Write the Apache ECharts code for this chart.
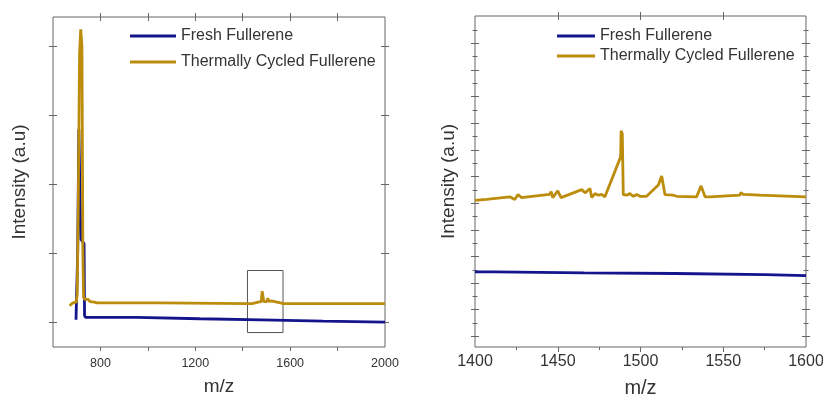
<!DOCTYPE html>
<html><head><meta charset="utf-8">
<script src="https://cdn.jsdelivr.net/npm/echarts@6/dist/echarts.min.js"></script>
<style>html,body{margin:0;padding:0;background:#fff}#c{width:823px;height:398px}</style>
</head><body><div id="c"></div>
<script>
const seriesNames = ['Fresh Fullerene', 'Thermally Cycled Fullerene'];

// ---- left panel (full range) ----
const freshMzL  = [697, 700, 704, 709, 713, 718, 731, 733, 737, 952, 954, 1219, 1221, 1479, 1481, 1739, 1741, 2000];
const freshIntL = [0.035, 0.06, 1.0, 2.8, 2.0, 1.2, 1.14, 0.1, 0.07, 0.07, 0.05, 0.05, 0.035, 0.035, 0.015, 0.015, 0.0, 0.0];
const cycledMzL  = [670, 684, 698, 702, 706, 712, 717, 722, 726, 729, 734, 740, 748, 756, 775, 785, 1050, 1052, 1420, 1425, 1440, 1465, 1478, 1482, 1486, 1489, 1502, 1506, 1510, 1520, 1524, 1528, 1560, 1570, 2000];
const cycledIntL = [0.24, 0.28, 0.29, 0.4, 1.5, 3.9, 4.25, 4.0, 1.0, 0.36, 0.33, 0.32, 0.33, 0.30, 0.29, 0.28, 0.28, 0.27, 0.27, 0.26, 0.27, 0.29, 0.30, 0.45, 0.47, 0.30, 0.30, 0.35, 0.30, 0.31, 0.32, 0.29, 0.28, 0.27, 0.27];
const boxMz  = [1420, 1570];
const boxInt = [-0.15, 0.75];
const leftXRange = [600, 2000];
const leftYRange = [-0.36, 4.43];
const leftXTicks = [800, 1000, 1200, 1400, 1600, 1800];
const leftXLabels = [800, 1200, 1600, 2000];
const leftYTicks = [0, 1, 2, 3, 4];

// ---- right panel (zoom 1400-1600) ----
const freshMzR  = [1400, 1412, 1413, 1466, 1467, 1521, 1522, 1575, 1576, 1600];
const freshIntR = [2.42, 2.42, 2.38, 2.38, 2.36, 2.36, 2.32, 2.32, 2.28, 2.28];
const cycledMzR  = [1400, 1407, 1421, 1422, 1424, 1426, 1428, 1445, 1446, 1447, 1450, 1452, 1464.5, 1466.5, 1469.5, 1470.5, 1472.5, 1474.5, 1476.5, 1478.5, 1488, 1488.3, 1489, 1489.6, 1491.6, 1493.6, 1495.7, 1497.7, 1499.7, 1503.7, 1510.8, 1512.8, 1514.8, 1519.8, 1521.9, 1533.9, 1536.6, 1539, 1542, 1560, 1560.7, 1562, 1572, 1600];
const cycledIntR = [5.11, 5.14, 5.24, 5.30, 5.14, 5.33, 5.21, 5.33, 5.43, 5.21, 5.46, 5.21, 5.51, 5.39, 5.55, 5.21, 5.36, 5.30, 5.33, 5.24, 6.74, 7.72, 7.60, 5.32, 5.30, 5.36, 5.26, 5.33, 5.26, 5.26, 5.68, 6.02, 5.32, 5.30, 5.26, 5.24, 5.65, 5.24, 5.24, 5.30, 5.40, 5.33, 5.30, 5.24];
const rightXRange = [1400, 1600];
const rightYRange = [-0.4, 12.03];
const rightXMajor = [1450, 1500, 1550];
const rightXMinor = [1425, 1475, 1525, 1575];
const rightXLabels = [1400, 1450, 1500, 1550, 1600];
const rightYMajor = [0, 1, 2, 3, 4, 5, 6, 7, 8, 9, 10, 11];
const rightYMinor = [0.5, 1.5, 2.5, 3.5, 4.5, 5.5, 6.5, 7.5, 8.5, 9.5, 10.5, 11.5];

const zip = (a, b) => a.map((v, i) => [v, b[i]]);
const FONT = 'Liberation Sans, Arial, sans-serif';
const AX = '#666';
const TXT = '#333';
const BLUE = '#14148c';
const GOLD = '#bc8c0c';
const plain = v => String(v);

function tickAxis(grid, pos, range, values, len, offset) {
  return {
    type: 'value', gridIndex: grid, position: pos, min: range[0], max: range[1], offset: offset,
    axisLine: { show: false, onZero: false },
    axisTick: { show: true, inside: false, length: len, customValues: values, lineStyle: { color: AX, width: 1 } },
    axisLabel: { show: false }, splitLine: { show: false }
  };
}

const chart = echarts.init(document.getElementById('c'), null, { renderer: 'canvas' });
chart.setOption({
  animation: false,
  backgroundColor: '#fff',
  textStyle: { fontFamily: FONT },
  grid: [
    { left: 53, top: 17, width: 332, bottom: 51, show: true, borderColor: AX, borderWidth: 1, backgroundColor: 'transparent',
      containLabel: false, outerBoundsMode: 'none' },
    { left: 475, top: 16, right: 17, bottom: 51, show: true, borderColor: AX, borderWidth: 1, backgroundColor: 'transparent',
      containLabel: false, outerBoundsMode: 'none' }
  ],
  legend: [
    { left: 125, top: 22, orient: 'vertical', icon: 'rect', itemWidth: 46, itemHeight: 3, itemGap: 8, selectedMode: false,
      textStyle: { fontSize: 16, lineHeight: 18, color: TXT, fontFamily: FONT }, data: seriesNames },
    { left: 552, top: 22, orient: 'vertical', icon: 'rect', itemWidth: 38, itemHeight: 3, itemGap: 2, selectedMode: false,
      textStyle: { fontSize: 16, lineHeight: 18, color: TXT, fontFamily: FONT }, data: seriesNames }
  ],
  xAxis: [
    { type: 'value', gridIndex: 0, position: 'bottom', min: leftXRange[0], max: leftXRange[1],
      name: 'm/z', nameLocation: 'middle', nameGap: 30.5, nameTextStyle: { fontSize: 19, color: TXT, fontFamily: FONT },
      axisLine: { show: false, onZero: false },
      axisTick: { show: true, length: 4, customValues: leftXTicks, lineStyle: { color: AX } },
      axisLabel: { customValues: leftXLabels, formatter: plain, fontSize: 12.5, color: TXT, margin: 10, fontFamily: FONT },
      splitLine: { show: false } },
    tickAxis(0, 'top', leftXRange, leftXTicks, 8, -4),
    { type: 'value', gridIndex: 1, position: 'bottom', min: rightXRange[0], max: rightXRange[1],
      name: 'm/z', nameLocation: 'middle', nameGap: 31, nameTextStyle: { fontSize: 20, color: TXT, fontFamily: FONT },
      axisLine: { show: false, onZero: false },
      axisTick: { show: true, length: 5, customValues: rightXMajor, lineStyle: { color: AX } },
      axisLabel: { customValues: rightXLabels, formatter: plain, fontSize: 16, color: TXT, margin: 7, fontFamily: FONT },
      splitLine: { show: false } },
    tickAxis(1, 'bottom', rightXRange, rightXMinor, 3, 0),
    tickAxis(1, 'top', rightXRange, rightXMajor, 8, -4)
  ],
  yAxis: [
    { type: 'value', gridIndex: 0, position: 'left', min: leftYRange[0], max: leftYRange[1],
      name: 'Intensity (a.u)', nameLocation: 'middle', nameGap: 24, nameTextStyle: { fontSize: 19, color: TXT, fontFamily: FONT },
      axisLine: { show: false, onZero: false }, axisTick: { show: false }, axisLabel: { show: false }, splitLine: { show: false } },
    tickAxis(0, 'left', leftYRange, leftYTicks, 8, -4),
    tickAxis(0, 'right', leftYRange, leftYTicks, 8, -4),
    { type: 'value', gridIndex: 1, position: 'left', min: rightYRange[0], max: rightYRange[1],
      name: 'Intensity (a.u)', nameLocation: 'middle', nameGap: 17, nameTextStyle: { fontSize: 19, color: TXT, fontFamily: FONT },
      axisLine: { show: false, onZero: false }, axisTick: { show: false }, axisLabel: { show: false }, splitLine: { show: false } },
    tickAxis(1, 'left', rightYRange, rightYMajor, 8, -4),
    tickAxis(1, 'left', rightYRange, rightYMinor, 5, -2.5),
    tickAxis(1, 'right', rightYRange, rightYMajor, 8, -4),
    tickAxis(1, 'right', rightYRange, rightYMinor, 5, -2.5)
  ],
  series: [
    { name: seriesNames[0], type: 'line', xAxisIndex: 0, yAxisIndex: 0, data: zip(freshMzL, freshIntL),
      showSymbol: false, symbol: 'none', lineStyle: { color: BLUE, width: 2.8 }, itemStyle: { color: BLUE }, z: 2,
      markArea: { silent: true, itemStyle: { color: 'rgba(0,0,0,0)', borderColor: '#555', borderWidth: 1 },
        data: [[{ xAxis: boxMz[0], yAxis: boxInt[0] }, { xAxis: boxMz[1], yAxis: boxInt[1] }]] } },
    { name: seriesNames[1], type: 'line', xAxisIndex: 0, yAxisIndex: 0, data: zip(cycledMzL, cycledIntL),
      showSymbol: false, symbol: 'none', lineStyle: { color: GOLD, width: 2.8 }, itemStyle: { color: GOLD }, z: 3 },
    { name: seriesNames[0], type: 'line', xAxisIndex: 2, yAxisIndex: 3, data: zip(freshMzR, freshIntR),
      showSymbol: false, symbol: 'none', lineStyle: { color: BLUE, width: 2.8 }, itemStyle: { color: BLUE }, z: 2 },
    { name: seriesNames[1], type: 'line', xAxisIndex: 2, yAxisIndex: 3, data: zip(cycledMzR, cycledIntR),
      showSymbol: false, symbol: 'none', lineStyle: { color: GOLD, width: 2.8 }, itemStyle: { color: GOLD }, z: 3 }
  ]
});
</script></body></html>
